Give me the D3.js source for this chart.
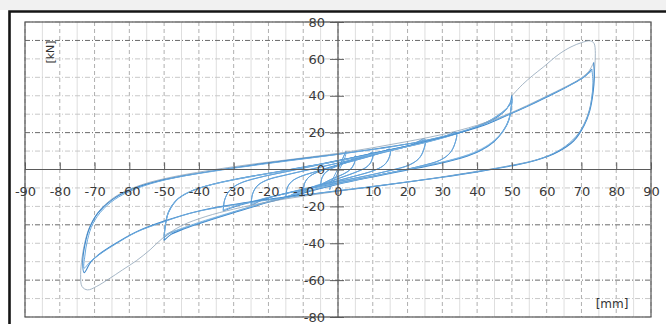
<!DOCTYPE html>
<html>
<head>
<meta charset="utf-8">
<script src="https://cdn.jsdelivr.net/npm/d3@7"></script>
<style>
body { margin: 0; background: #fff; }
svg { display: block; }
</style>
</head>
<body>
<svg id="main"></svg>
<script>
// axis ticks
var xTicks = [-90, -80, -70, -60, -50, -40, -30, -20, -10, 0, 10, 20, 30, 40, 50, 60, 70, 80, 90];
var yTicks = [80, 60, 40, 20, 0, -20, -40, -60, -80];
var xGrid = d3.range(-90, 91, 5);
var yGrid = d3.range(-80, 81, 10);
var darkGrid = [70, 20, -30, -60];

// displacement [mm], force [kN]
var cycInit = [[0,0],[0.8,3.5],[1.6,7],[2.3,10],[2.1,7],[1.2,3],[0,-1.5],[-1,-5.5],[-1.8,-8.5],[-2.4,-11],[-2.1,-8],[-1.2,-4],[0,0.5],[1,4.5],[2.2,9.5]];
var cyc5a = [[-5,-9],[-4.6,-4.5],[-3.5,-1.5],[-1.5,0.8],[1,2.8],[3.2,4.5],[4.5,5.8],[5,7.5],[4.6,3],[3.5,0],[1.5,-2.5],[-1,-4.5],[-3.2,-6.5],[-4.5,-7.8],[-5,-9]];
var cyc5b = [[-5,-8.5],[-4.5,-4],[-3.3,-1],[-1,1.5],[1.5,3.2],[3.5,4.8],[5,7],[4.5,2.5],[3.3,-0.5],[1,-3],[-1.5,-5],[-3.5,-6.8],[-5,-8.5]];
var cyc10a = [[-10,-12.5],[-9.6,-7.5],[-8.3,-4],[-6,-1.5],[-3,0.5],[0,2.5],[3,4.5],[6,6.3],[8.5,7.8],[10,9.5],[9.6,4.5],[8.3,1.5],[6,-0.8],[3,-3],[0,-5],[-3,-7],[-6,-8.8],[-8.5,-10.3],[-10,-12.5]];
var cyc10b = [[-10,-12],[-9.5,-7],[-8,-3.5],[-5,-0.8],[-1,1.8],[3,4.2],[6.5,6.2],[10,9],[9.5,4],[8,1],[5,-1.5],[1,-4.2],[-3,-6.8],[-6.5,-8.8],[-10,-12]];
var cyc15a = [[-15,-15.5],[-14.6,-10],[-13.3,-6.5],[-11,-4],[-7,-1.5],[-2,1.5],[3,4],[8,6.5],[12,8.8],[15,11],[14.6,6],[13.3,2.5],[11,0],[7,-2.5],[2,-5],[-3,-7.5],[-8,-10],[-12,-12.5],[-15,-15.5]];
var cyc15b = [[-15,-15],[-14.5,-9.5],[-13,-6],[-10,-3.2],[-5,-0.5],[0,2.3],[5,5],[10,7.7],[15,10.5],[14.5,5.5],[13,2],[10,-0.8],[5,-3.5],[0,-6],[-5,-8.7],[-10,-11.5],[-15,-15]];
var cyc25a = [[-25,-19.5],[-24.6,-13.5],[-23.3,-9],[-20.5,-5.8],[-15,-3],[-8,0],[0,3.5],[8,7],[15,10.2],[21,13.2],[25,16.5],[24.6,10.5],[23.3,6],[20.5,2.5],[15,-0.5],[8,-3.5],[0,-6.5],[-8,-9.8],[-15,-13],[-21,-16],[-25,-19.5]];
var cyc25b = [[-25,-19],[-24.5,-13],[-23,-8.5],[-20,-5.3],[-14,-2.5],[-6,1],[2,4.3],[10,7.8],[17,11],[22,13.7],[25,15.8],[24.5,10],[23,5.5],[20,2],[14,-1],[6,-4.3],[-2,-7.3],[-10,-10.6],[-17,-13.8],[-22,-16.2],[-25,-19]];
var cyc34a = [[-33,-22.5],[-32.6,-16.5],[-31.2,-11.5],[-28.5,-7.8],[-23,-4.5],[-15,-1.2],[-5,2.8],[5,6.8],[15,10.8],[24,14.5],[30,17.5],[34,20],[33.6,14],[32.2,9],[29.5,5.2],[24,2],[15,-1.8],[5,-5.5],[-5,-9.2],[-15,-13],[-23,-16.8],[-29,-19.8],[-33,-22.5]];
var cyc34b = [[-33,-22],[-32.5,-16],[-31,-11],[-28,-7.3],[-22,-4],[-13,-0.5],[-3,3.5],[7,7.5],[17,11.5],[25,15],[31,17.8],[34,19.2],[33.5,13.5],[32,8.5],[29,4.7],[23,1.5],[13,-2.5],[3,-6],[-7,-9.8],[-17,-13.8],[-25,-17.5],[-30,-20],[-33,-22]];
var cyc50a = [[-50,-38.5],[-49.7,-31],[-48.8,-23.5],[-46.5,-16.8],[-42.5,-12],[-36,-8],[-28,-4.8],[-18,-1.5],[-8,2],[2,5.5],[12,9.5],[22,13.5],[31,17.8],[38,21.8],[43.5,26],[47.5,31],[49.5,36],[50,40.2],[49.8,34],[49.2,27.5],[47.5,21],[44.8,15],[41,10.3],[35.5,6.2],[28,2.8],[19,-0.6],[10,-4],[0,-8],[-10,-12.8],[-20,-17.8],[-30,-23.5],[-38,-28.2],[-44,-32],[-48,-35.2],[-50,-38.5]];
var cyc50b = [[-50,-37],[-49.6,-29.5],[-48.5,-22],[-46,-15.8],[-41.5,-11.2],[-34.5,-7.3],[-26,-4],[-16,-0.8],[-6,2.6],[4,6],[14,10],[24,14.2],[32.5,18.5],[39,22.6],[44,27],[47.8,32],[49.6,35.5],[50,38.5],[49.7,32],[48.9,25.5],[47,19.5],[44,14],[40,9.6],[34,5.8],[26,2.3],[17,-1],[8,-4.5],[-2,-8.5],[-12,-13.3],[-22,-18.5],[-31,-23.7],[-39,-28.5],[-45,-32.3],[-48.5,-34.8],[-50,-37]];
var cyc50c = [[-50,-36],[-49.5,-28.5],[-48.2,-21],[-45.5,-15],[-40.5,-10.5],[-33,-6.8],[-24,-3.5],[-14,-0.3],[-4,3.2],[6,6.8],[16,10.8],[26,15],[34,19.3],[40,23.5],[45,28],[48.3,32.5],[50,37.5],[49.6,31],[48.6,24.5],[46.5,18.7],[43.3,13.5],[39,9.2],[33,5.5],[25,2],[16,-1.4],[7,-5],[-3,-9],[-13,-13.8],[-23,-19],[-32,-24],[-40,-28.7],[-45.5,-32.3],[-48.8,-34.5],[-50,-36]];
var cyc73a = [[50,40],[53,46],[56,51],[59,55.5],[63.5,62.5],[67,66.5],[70,68.8],[72.5,69.8],[73.6,68.5],[74,63],[73.8,55],[73.4,45],[72.5,34],[70.8,25],[68,16.5],[63.5,10],[57.5,5.5],[50,2.3],[40,-1],[30,-4],[20,-6.8],[10,-9.3],[0,-11.8],[-10,-14.5],[-20,-17.5],[-30,-21.5],[-38,-25.5],[-45,-30.5],[-50,-36.5],[-54,-43.5],[-58,-49.5],[-62,-54.5],[-66,-59.5],[-69.5,-63.5],[-72,-65.3],[-73.6,-63.5],[-74,-57],[-73.6,-48],[-72.6,-38],[-71,-29.5],[-68,-21],[-63,-13.5],[-56,-8],[-48,-4.2],[-38,-0.8],[-25,2.8],[-10,6.3],[0,8.8],[10,11.8],[20,15.2],[30,19],[40,24],[50,31],[58,38],[64,43.5],[69,48.5],[72,53],[73.5,58]];
var cyc73b = [[73.5,58],[73.7,50],[73.3,41],[72.4,32],[70.8,24],[67.8,15.5],[63,9.3],[57,5],[50,2],[40,-1.3],[30,-4.2],[20,-6.8],[10,-9.3],[0,-11.5],[-10,-13.8],[-20,-16.2],[-30,-19],[-40,-22.5],[-50,-28],[-57,-33],[-63,-39],[-68,-45],[-71,-50],[-73,-56],[-73.4,-50],[-72.8,-41],[-71.5,-32],[-69,-23.5],[-65,-16.5],[-59,-10.5],[-50,-5.5],[-40,-2],[-28,1.5],[-15,4.8],[0,8.3],[12,11.5],[22,14.5],[32,18.5],[42,24],[50,30.5],[57,36.5],[63,42],[68,47],[71,50.5],[73,54.5]];
var cyc73c = [[73,54.5],[73.3,47],[72.9,38],[71.9,29.5],[69.9,21.5],[66.5,14.3],[62,8.8],[56,4.6],[48,1.5],[38,-1.8],[28,-4.7],[18,-7.2],[8,-9.7],[-2,-12],[-12,-14.5],[-22,-17],[-32,-19.8],[-42,-23.5],[-51,-29],[-58,-34],[-64,-40.5],[-68.5,-46],[-71.5,-50.5],[-73,-53.5],[-72.8,-47],[-72,-38],[-70.5,-29.5],[-67.5,-21.5],[-63,-14.8],[-56,-9],[-47,-4.5],[-36,-1],[-22,2.8],[-8,6.2],[5,9.5],[16,12.5],[27,16.5],[37,21.5],[46,27.5],[54,34],[61,40.5],[66.5,45.5],[70.5,50],[73,53.5]];

var width = 666, height = 324;
var svg = d3.select('#main').attr('width', width).attr('height', height);

var x = d3.scaleLinear().domain([-90, 90]).range([25, 651]);
var y = d3.scaleLinear().domain([-80, 80]).range([317, 22]);

// page + frame
svg.append('rect').attr('width', width).attr('height', height).attr('fill', '#fff');
svg.append('rect').attr('width', width).attr('height', 10).attr('fill', '#f1f1f1');
svg.append('path')
	.attr('d', 'M9.5,324 V11.5 H666')
	.attr('fill', 'none')
	.attr('stroke', '#151515')
	.attr('stroke-width', 2.6);

// grid
var grid = svg.append('g');
grid.selectAll('line.v').data(xGrid).join('line')
	.attr('x1', d => x(d)).attr('x2', d => x(d))
	.attr('y1', y(80)).attr('y2', y(-80))
	.attr('stroke', d => d % 10 === 0 ? '#b0b0b0' : '#dedede')
	.attr('stroke-width', 1)
	.attr('stroke-dasharray', d => d % 10 === 0 ? '4,3' : null);
grid.selectAll('line.h').data(yGrid).join('line')
	.attr('x1', x(-90)).attr('x2', x(90))
	.attr('y1', d => y(d)).attr('y2', d => y(d))
	.attr('stroke', d => darkGrid.includes(d) ? '#6a6a6a' : '#c8c8c8')
	.attr('stroke-width', 1)
	.attr('stroke-dasharray', '5,2,1,2');

// plot border
svg.append('rect')
	.attr('x', x(-90)).attr('y', y(80))
	.attr('width', x(90) - x(-90)).attr('height', y(-80) - y(80))
	.attr('fill', 'none')
	.attr('stroke', '#555')
	.attr('stroke-width', 1.2);

// loops
var line = d3.line()
	.x(d => x(d[0]))
	.y(d => y(d[1]))
	.curve(d3.curveCatmullRom.alpha(0.5));

var series = [
	[cycInit, '#5d9fd8', 0.9],
	[cyc5a, '#4a91d2', 1], [cyc5b, '#6aa8dc', 0.9],
	[cyc10a, '#4a91d2', 1], [cyc10b, '#6aa8dc', 0.9],
	[cyc15a, '#4a91d2', 1], [cyc15b, '#6aa8dc', 0.9],
	[cyc25a, '#4a91d2', 1], [cyc25b, '#6aa8dc', 0.9],
	[cyc34a, '#4a91d2', 1], [cyc34b, '#6aa8dc', 0.9],
	[cyc50a, '#3f89cc', 1.1], [cyc50b, '#5b9fd8', 1], [cyc50c, '#7ab2e0', 0.9],
	[cyc73a, '#8ea3b8', 0.8],
	[cyc73b, '#3f89cc', 1.1], [cyc73c, '#6aa8dc', 1]
];
svg.append('g').selectAll('path').data(series).join('path')
	.attr('d', d => line(d[0]))
	.attr('fill', 'none')
	.attr('stroke', d => d[1])
	.attr('stroke-width', d => d[2])
	.attr('stroke-linejoin', 'round');

// axes through the origin
var font = '"DejaVu Sans", sans-serif';
var fmt = d => String(d);
var xAxis = svg.append('g')
	.attr('transform', `translate(0,${y(0)})`)
	.call(d3.axisBottom(x).tickValues(xTicks).tickFormat(fmt).tickSize(-7).tickPadding(17));
var yAxis = svg.append('g')
	.attr('transform', `translate(${x(0)},0)`)
	.call(d3.axisLeft(y).tickValues(yTicks).tickFormat(fmt).tickSize(8).tickPadding(5));
for (let ax of [xAxis, yAxis]) {
	ax.select('.domain').attr('stroke', '#5a5a5a').attr('stroke-width', 1.2);
	ax.selectAll('.tick line').attr('stroke', '#5a5a5a');
	ax.selectAll('text')
		.attr('fill', '#3a3a3a')
		.style('font-family', font)
		.style('font-size', '13px');
}
yAxis.selectAll('.tick line').attr('x1', 6);
yAxis.select('.domain').attr('d', `M0,${y(80)}V${y(-80)}`);
xAxis.select('.domain').attr('d', `M${x(-90)},0H${x(90)}`);

// unit labels
svg.append('text')
	.attr('transform', 'translate(54,52) rotate(-90)')
	.attr('text-anchor', 'middle')
	.attr('fill', '#333')
	.style('font-family', font)
	.style('font-size', '11px')
	.text('[kN]');
svg.append('text')
	.attr('x', 612).attr('y', 308)
	.attr('text-anchor', 'middle')
	.attr('fill', '#333')
	.style('font-family', font)
	.style('font-size', '12px')
	.text('[mm]');
</script>
</body>
</html>
